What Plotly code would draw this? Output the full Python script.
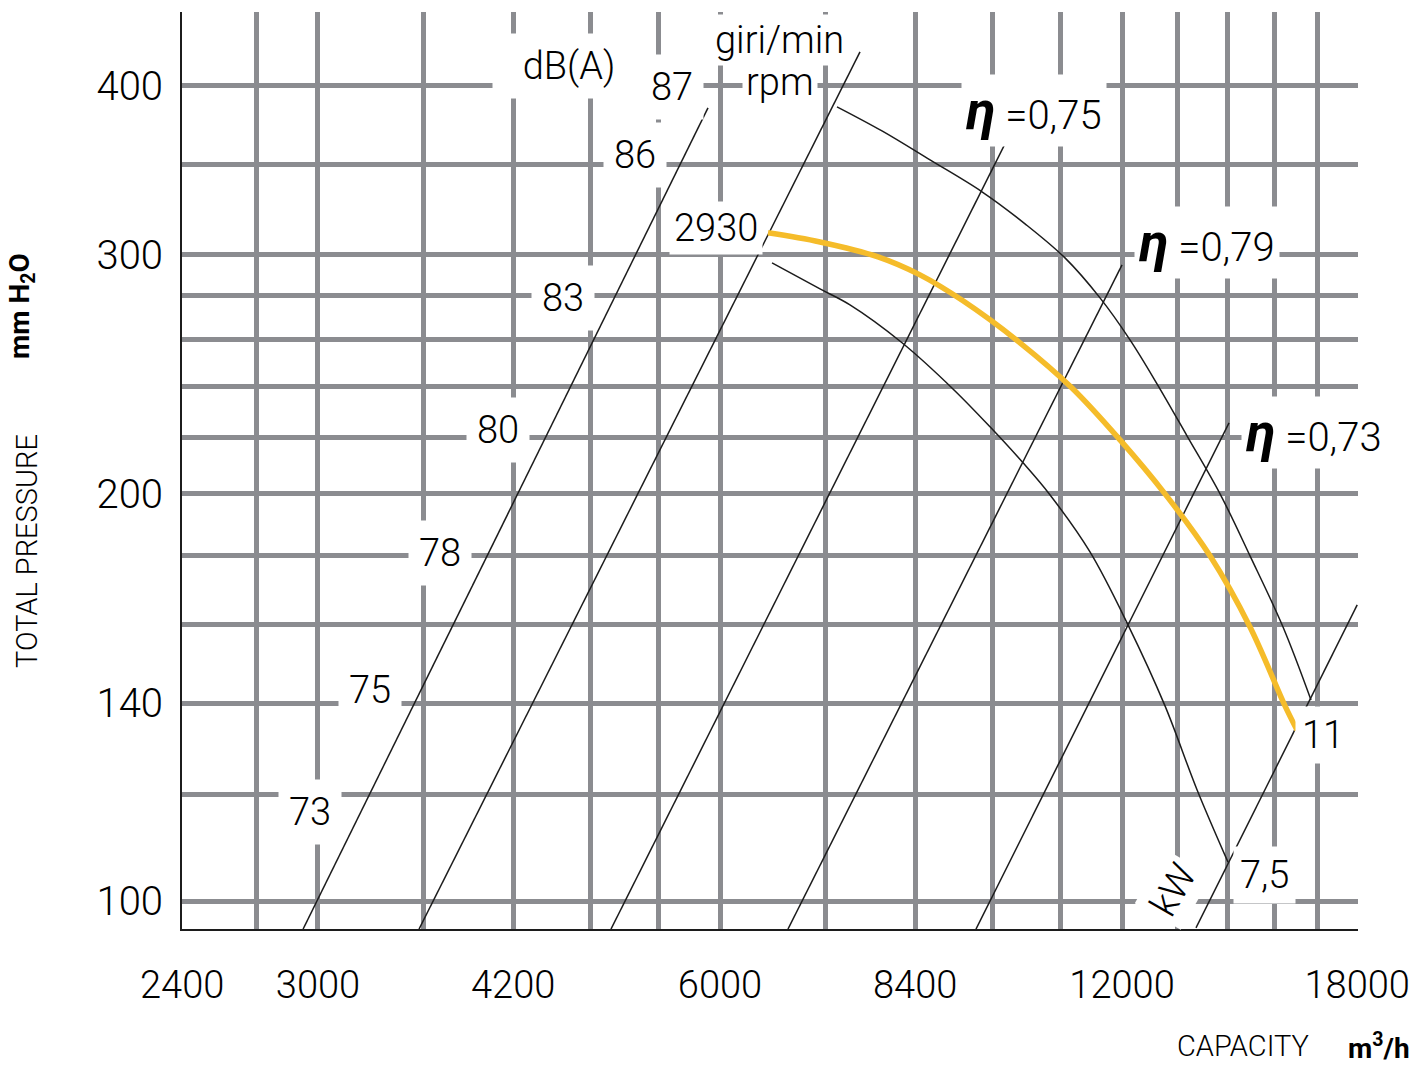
import plotly.graph_objects as go

# ---------------- data ----------------
# labelled capacity ticks (m3/h); 2400 sits on the left axis line
x_ticks = [3000, 4200, 6000, 8400, 12000, 18000]
x_tick_text = ["3000", "4200", "6000", "8400", "12000", "18000"]
x_axis_start_label = "2400"
x_minor_grid = [2700, 3600, 4800, 5400, 7200, 9600, 10800, 13200, 14400, 15600, 16800]
# labelled pressure ticks (mm H2O) and the extra horizontal grid lines
y_ticks = [100, 140, 200, 300, 400]
y_tick_text = ["100", "140", "200", "300", "400"]
y_minor_grid = [120, 160, 180, 220, 240, 260, 280, 350]

# fan curve 2930 rpm (yellow)
q_2930 = [6518, 7129, 7879, 8470, 9122, 10064, 11008, 11958, 12923, 13965, 14963, 15893, 16226]
p_2930 = [311.5, 306.7, 299.0, 290.0, 277.5, 258.4, 239.3, 219.1, 199.9, 179.9, 159.4, 139.4, 133.8]

# power curve 11 kW
q_11kw = [7341, 7933, 8618, 9426, 10152, 10876, 11553, 12166, 12746, 13422, 14209, 14963, 15839, 16622]
p_11kw = [385.9, 370.4, 352.6, 334.0, 316.3, 298.5, 278.9, 259.7, 241.0, 220.6, 199.9, 179.9, 159.4, 140.8]

# power curve 7,5 kW
q_7kw = [6563, 7129, 7507, 8212, 8966, 9557, 10117, 10600, 11355, 12124, 12923, 13656, 14406]
p_7kw = [296.0, 283.2, 275.6, 258.4, 238.9, 224.0, 210.7, 199.5, 181.1, 160.0, 139.4, 120.9, 106.9]

# system parabolas (start / end points)
par_q_start = [2924, 3571, 4972, 6746, 9329, 13632]
par_p_start = [95.4, 95.4, 95.4, 95.4, 95.4, 95.6]
par_q_end = [5877, 7638, 9841, 12000, 14431, 18000]
par_p_end = [385.2, 423.7, 364.8, 295.0, 225.5, 165.5]

# dB(A) labels
db_labels = ["73", "75", "78", "80", "83", "86", "87"]
# efficiency labels
eta_labels = ["=0,75", "=0,79", "=0,73"]

# ---------------- styling ----------------
FONT = "Roboto, 'Liberation Sans', Arial, sans-serif"
GRID = "#8b8c90"
INK = "#1c1c1c"
YELLOW = "#F5BC2A"

fig = go.Figure()

for qs, ps, qe, pe in zip(par_q_start, par_p_start, par_q_end, par_p_end):
    fig.add_trace(go.Scatter(x=[qs, qe], y=[ps, pe], mode="lines",
                             line=dict(color=INK, width=1.5),
                             hoverinfo="skip", showlegend=False))

fig.add_trace(go.Scatter(x=q_11kw, y=p_11kw, mode="lines",
                         line=dict(color=INK, width=1.5, shape="spline", smoothing=1.0),
                         hoverinfo="skip", showlegend=False))
fig.add_trace(go.Scatter(x=q_7kw, y=p_7kw, mode="lines",
                         line=dict(color=INK, width=1.5, shape="spline", smoothing=1.0),
                         hoverinfo="skip", showlegend=False))
fig.add_trace(go.Scatter(x=q_2930, y=p_2930, mode="lines",
                         line=dict(color=YELLOW, width=5.5, shape="spline", smoothing=1.0),
                         hoverinfo="skip", showlegend=False))

# ---------------- annotations ----------------
def lab(text, x, y, size=38, angle=0, bg="white", pad=6, bold=False,
        width=None, height=None, valign="middle"):
    fig.add_annotation(text=text, xref="paper", yref="paper", x=x, y=y,
                       xanchor="center", yanchor="middle", showarrow=False,
                       textangle=angle, bgcolor=bg, borderpad=pad,
                       width=width, height=height, valign=valign,
                       font=dict(family=FONT, size=size, color="black",
                                 weight=700 if bold else 300))

# dB(A) labels
db_pos = [(0.1088, 0.1276), (0.1599, 0.2606), (0.2194, 0.4100), (0.2687, 0.5442),
          (0.3240, 0.6881), (0.3852, 0.8441), (0.4167, 0.9182)]
for t, (px, py) in zip(db_labels, db_pos):
    lab(t, px, py, pad=10)
lab("dB(A)", 0.3291, 0.9411, pad=10, width=132)
lab("giri/min", 0.5085, 0.9695, pad=3)
lab("rpm", 0.5085, 0.9237, pad=3)
lab("2930", 0.4541, 0.7645, pad=4)
lab("11", 0.9702, 0.2116, pad=6)
lab("7,5", 0.9209, 0.0589, pad=6)
lab("kW", 0.8427, 0.0425, angle=-60, pad=4)

eta_pos = [(0.7241, 0.8931), (0.8712, 0.7481), (0.9622, 0.5409)]
for val, (ex, ey) in zip(eta_labels, eta_pos):
    lab('<span style="font-size:54px"><b><i>η</i></b></span> ' + val, ex, ey,
        size=40, pad=4)

# first capacity label on the axis line
lab(x_axis_start_label, 0.0, -0.0611, size=38, bg=None, pad=0)

# axis titles
lab("TOTAL PRESSURE", -0.1318, 0.4122, size=29, angle=-90, bg=None, pad=0)
lab("mm H<sub>2</sub>O", -0.1361, 0.6794, size=28, angle=-90, bg=None, pad=0, bold=True)
lab("CAPACITY", 0.9022, -0.1276, size=29, bg=None, pad=0)
lab("m<sup>3</sup>/h", 1.0179, -0.1276, size=28, bg=None, pad=0, bold=True)

# ---------------- axes ----------------
fig.update_xaxes(type="log",
                 range=[3.37530, 4.25587],
                 tickmode="array", tickvals=x_ticks, ticktext=x_tick_text,
                 showgrid=True, gridcolor=GRID, gridwidth=4.5,
                 minor=dict(tickmode="array", tickvals=x_minor_grid, showgrid=True,
                            gridcolor=GRID, gridwidth=4.5, ticks=""),
                 showline=True, linecolor=INK, linewidth=2, mirror=False,
                 ticks="", zeroline=False, ticklabelstandoff=21,
                 ticklabeloverflow="allow",
                 tickfont=dict(family=FONT, size=38, color="black", weight=300),
                 fixedrange=True)
fig.update_yaxes(type="log",
                 range=[1.97960, 2.65645],
                 tickmode="array", tickvals=y_ticks, ticktext=y_tick_text,
                 showgrid=True, gridcolor=GRID, gridwidth=4.5,
                 minor=dict(tickmode="array", tickvals=y_minor_grid, showgrid=True,
                            gridcolor=GRID, gridwidth=4.5, ticks=""),
                 showline=True, linecolor=INK, linewidth=2, mirror=False,
                 ticks="", zeroline=False, ticklabelstandoff=9,
                 tickfont=dict(family=FONT, size=40, color="black", weight=300),
                 fixedrange=True)

fig.update_layout(width=1417, height=1065,
                  margin=dict(l=182, r=59, t=12, b=136, autoexpand=False),
                  paper_bgcolor="white", plot_bgcolor="white",
                  hovermode=False, showlegend=False,
                  font=dict(family=FONT, color="black"))

fig.write_html("out.html", config={"displayModeBar": False},
               post_script="document.body.style.margin='0';document.body.style.overflow='hidden';")
